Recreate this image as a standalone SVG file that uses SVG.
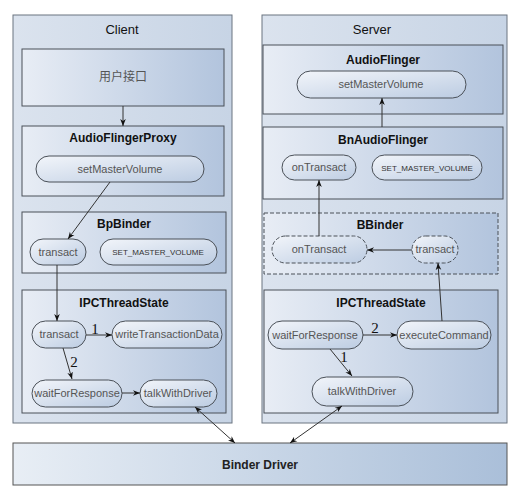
<svg xmlns="http://www.w3.org/2000/svg" width="515" height="500" viewBox="0 0 515 500">
<style>
.outer{stroke:#6b7480;stroke-width:1;fill:url(#gOuter)}
.box{stroke:#4a5058;stroke-width:1;fill:url(#gBox)}
.dbox{stroke:#4a5058;stroke-width:1;stroke-dasharray:4,2;fill:url(#gBox)}
.pill{stroke:#4a5058;stroke-width:1;fill:url(#gPill)}
.dpill{stroke:#4a5058;stroke-width:1;stroke-dasharray:4,2;fill:url(#gPill)}
.ttl{font-family:"Liberation Sans",Arial,sans-serif;font-size:12px;font-weight:bold;fill:#111;text-anchor:middle}
.big{font-family:"Liberation Sans",Arial,sans-serif;font-size:13px;fill:#111;text-anchor:middle}
.lbl{font-family:"Liberation Sans",Arial,sans-serif;font-size:11px;fill:#555;text-anchor:middle}
.sm{font-family:"Liberation Sans",Arial,sans-serif;font-size:8px;fill:#333;text-anchor:middle}
.num{font-family:"Liberation Serif","Times New Roman",serif;font-size:15px;fill:#111;text-anchor:middle}
.ln{stroke:#333;stroke-width:1;fill:none}
</style>
<defs>
<linearGradient id="gOuter" x1="0" y1="0" x2="1" y2="0"><stop offset="0" stop-color="#dbe3ee"/><stop offset="1" stop-color="#c7d4e5"/></linearGradient>
<linearGradient id="gBox" x1="0" y1="0" x2="1" y2="0"><stop offset="0" stop-color="#e8edf5"/><stop offset="1" stop-color="#b2c4dd"/></linearGradient>
<linearGradient id="gDrv" x1="0" y1="0" x2="1" y2="0"><stop offset="0" stop-color="#e8eef5"/><stop offset="1" stop-color="#aabfd9"/></linearGradient>
<linearGradient id="gPill" x1="0" y1="0" x2="1" y2="1"><stop offset="0" stop-color="#f2f5fa"/><stop offset="1" stop-color="#bccce2"/></linearGradient>
<marker id="ah" viewBox="0 0 10 10" refX="10" refY="5" markerWidth="7" markerHeight="7" orient="auto-start-reverse" markerUnits="userSpaceOnUse"><path d="M0,1 L10,5 L0,9 L3,5 z" fill="#111"/></marker>
</defs>
<rect width="515" height="500" fill="#ffffff"/>

<g id="client">
<rect class="outer" x="13" y="15" width="219" height="408"/>
<text class="big" x="122" y="34">Client</text>
</g>
<g id="server">
<rect class="outer" x="262" y="15" width="245" height="408"/>
<text class="big" x="372" y="34">Server</text>
</g>

<g id="user-interface">
<rect class="box" x="22" y="49" width="202" height="57"/>
<text x="123" y="81" font-family="'Noto Sans CJK SC',sans-serif" font-size="12" fill="#555" text-anchor="middle">用户接口</text>
</g>

<g id="audioflingerproxy">
<rect class="box" x="22" y="126" width="202" height="70"/>
<text class="ttl" x="123" y="142">AudioFlingerProxy</text>
<rect class="pill" x="36" y="156" width="168" height="26" rx="13"/>
<text class="lbl" x="120" y="173">setMasterVolume</text>
</g>

<g id="bpbinder">
<rect class="box" x="22" y="212" width="204" height="61"/>
<text class="ttl" x="124" y="228">BpBinder</text>
<rect class="pill" x="30" y="239" width="56" height="26" rx="13"/>
<text class="lbl" x="58" y="256">transact</text>
<rect class="pill" x="100" y="239" width="117" height="26" rx="13"/>
<text class="sm" x="158" y="255">SET_MASTER_VOLUME</text>
</g>

<g id="client-ipc">
<rect class="box" x="22" y="290" width="204" height="123"/>
<text class="ttl" x="124" y="307">IPCThreadState</text>
<rect class="pill" x="32" y="321" width="54" height="27" rx="13.5"/>
<text class="lbl" x="59" y="338">transact</text>
<rect class="pill" x="112" y="321" width="110" height="27" rx="13.5"/>
<text class="lbl" x="167" y="338">writeTransactionData</text>
<rect class="pill" x="32" y="380" width="90" height="27" rx="13.5"/>
<text class="lbl" x="77" y="397">waitForResponse</text>
<rect class="pill" x="140" y="380" width="77" height="27" rx="13.5"/>
<text class="lbl" x="178" y="397">talkWithDriver</text>
</g>

<g id="audioflinger">
<rect class="box" x="263" y="45" width="240" height="69"/>
<text class="ttl" x="383" y="64">AudioFlinger</text>
<rect class="pill" x="297" y="71" width="169" height="27" rx="13.5"/>
<text class="lbl" x="381" y="88">setMasterVolume</text>
</g>

<g id="bnaudioflinger">
<rect class="box" x="263" y="127" width="240" height="72"/>
<text class="ttl" x="383" y="144">BnAudioFlinger</text>
<rect class="pill" x="282" y="155" width="74" height="25" rx="12.5"/>
<text class="lbl" x="319" y="171">onTransact</text>
<rect class="pill" x="372" y="155" width="110" height="25" rx="12.5"/>
<text class="sm" x="427" y="171">SET_MASTER_VOLUME</text>
</g>

<g id="bbinder">
<rect class="dbox" x="264" y="213" width="234" height="61"/>
<text class="ttl" x="380" y="229">BBinder</text>
<rect class="dpill" x="272" y="236" width="95" height="27" rx="13.5"/>
<text class="lbl" x="319" y="253">onTransact</text>
<rect class="dpill" x="412" y="236" width="46" height="27" rx="13.5"/>
<text class="lbl" x="435" y="253">transact</text>
</g>

<g id="server-ipc">
<rect class="box" x="264" y="290" width="234" height="123"/>
<text class="ttl" x="381" y="307">IPCThreadState</text>
<rect class="pill" x="268" y="321" width="95" height="28" rx="14"/>
<text class="lbl" x="315" y="339">waitForResponse</text>
<rect class="pill" x="397" y="321" width="94" height="28" rx="14"/>
<text class="lbl" x="444" y="339">executeCommand</text>
<rect class="pill" x="312" y="377" width="101" height="29" rx="14.5"/>
<text class="lbl" x="362" y="395">talkWithDriver</text>
</g>

<g id="binder-driver">
<rect x="13" y="443" width="494" height="42" fill="url(#gDrv)" stroke="#555" stroke-width="1"/>
<text x="260" y="469" font-family="'Liberation Sans',Arial,sans-serif" font-size="12" font-weight="bold" fill="#222" text-anchor="middle">Binder Driver</text>
</g>

<g id="connectors">
<line class="ln" x1="123" y1="106" x2="123" y2="126" marker-end="url(#ah)"/>
<line class="ln" x1="110" y1="182" x2="68" y2="239" marker-end="url(#ah)"/>
<line class="ln" x1="57" y1="265" x2="57" y2="321" marker-end="url(#ah)"/>
<line class="ln" x1="86" y1="335" x2="112" y2="335" marker-end="url(#ah)"/>
<text class="num" x="95" y="334">1</text>
<line class="ln" x1="63" y1="348" x2="72" y2="379" marker-end="url(#ah)"/>
<text class="num" x="74" y="367">2</text>
<line class="ln" x1="122" y1="393" x2="140" y2="393" marker-end="url(#ah)"/>
<line class="ln" x1="195" y1="407" x2="235" y2="443" marker-start="url(#ah)" marker-end="url(#ah)"/>

<line class="ln" x1="382" y1="127" x2="382" y2="98" marker-end="url(#ah)"/>
<line class="ln" x1="319" y1="236" x2="319" y2="180" marker-end="url(#ah)"/>
<line class="ln" x1="412" y1="250" x2="367" y2="250" marker-end="url(#ah)"/>
<line class="ln" x1="442" y1="321" x2="438" y2="263" marker-end="url(#ah)"/>
<line class="ln" x1="363" y1="335" x2="397" y2="335" marker-end="url(#ah)"/>
<text class="num" x="375" y="333">2</text>
<line class="ln" x1="330" y1="349" x2="352" y2="376" marker-end="url(#ah)"/>
<text class="num" x="344" y="362">1</text>
<line class="ln" x1="342" y1="406" x2="290" y2="443" marker-start="url(#ah)" marker-end="url(#ah)"/>
</g>
</svg>
